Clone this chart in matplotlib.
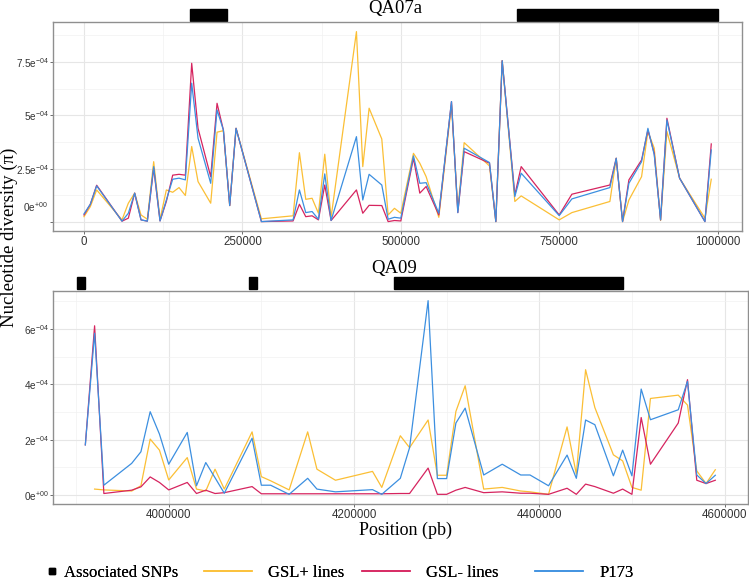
import numpy as np
import matplotlib
matplotlib.use("Agg")
import matplotlib.pyplot as plt
from matplotlib.lines import Line2D
from matplotlib.patches import Rectangle
from matplotlib.ticker import FixedLocator, FixedFormatter
import matplotlib.transforms as mtransforms

plt.rcParams["font.family"] = ["Liberation Sans", "DejaVu Sans"]
plt.rcParams["mathtext.default"] = "regular"

SERIF = ["Liberation Serif", "DejaVu Serif"]
C_PLUS = "#FBBF35"
C_MINUS = "#D6245F"
C_P173 = "#3C8FE0"

# ---- QA07a (window start positions, pi in units of 1e-4) ----
qa07_pos = [0, 10000, 20000, 60000, 70000, 80000, 90000, 100000, 110000, 120000,
            130000, 140000, 150000, 160000, 170000, 180000, 200000, 210000, 220000,
            230000, 240000, 280000, 330000, 340000, 350000, 360000, 370000, 380000,
            390000, 430000, 440000, 450000, 470000, 480000, 490000, 500000, 520000,
            530000, 540000, 560000, 580000, 590000, 600000, 640000, 650000, 660000,
            680000, 690000, 750000, 770000, 830000, 840000, 850000, 860000, 880000,
            890000, 900000, 910000, 920000, 940000, 980000, 990000]
qa07_p173 = [0.39, 0.84, 1.70, 0.05, 0.42, 1.36, 0.11, 0.05, 2.60, 0.06,
             1.04, 2.01, 2.06, 1.98, 6.50, 3.93, 1.82, 5.25, 4.31,
             0.78, 4.39, 0.03, 0.11, 1.51, 0.45, 0.50, 0.14, 2.26,
             0.08, 4.00, 1.04, 2.24, 1.74, 0.14, 0.23, 0.19, 3.10,
             1.82, 1.85, 0.42, 5.64, 0.45, 3.46, 2.79, 0.03, 7.55,
             1.20, 2.29, 0.31, 1.09, 1.62, 2.99, 0.03, 1.82, 2.83,
             4.39, 3.15, 0.11, 4.78, 2.06, 0.03, 3.38]
qa07_minus = [0.34, 0.84, 1.73, 0.05, 0.19, 1.36, 0.11, 0.05, 2.52, 0.06,
              0.97, 2.20, 2.24, 2.20, 7.43, 4.39, 2.13, 5.56, 4.31,
              0.78, 4.39, 0.03, 0.06, 0.84, 0.26, 0.30, 0.11, 1.74,
              0.08, 1.51, 0.42, 0.79, 0.78, 0.03, 0.08, 0.06, 2.99,
              1.36, 1.67, 0.34, 5.64, 0.45, 3.30, 2.76, 0.03, 7.55,
              1.28, 2.60, 0.34, 1.31, 1.74, 2.99, 0.03, 1.98, 2.91,
              4.31, 3.22, 0.11, 4.86, 2.06, 0.03, 3.66]
qa07_plus = [0.26, 0.73, 1.51, 0.11, 0.89, 1.36, 0.34, 0.14, 2.83, 0.14,
             1.51, 1.40, 1.62, 1.25, 3.54, 1.90, 0.89, 4.21, 4.28,
             0.78, 4.39, 0.16, 0.30, 3.25, 1.07, 1.12, 0.42, 3.18,
             0.23, 8.91, 2.60, 5.33, 3.89, 0.34, 0.65, 0.42, 3.22,
             2.76, 2.13, 0.23, 5.48, 0.58, 3.72, 2.63, 0.03, 7.55,
             0.97, 1.23, 0.11, 0.45, 0.97, 2.99, 0.03, 1.04, 2.13,
             4.24, 3.46, 0.08, 4.24, 2.06, 0.19, 2.01]
qa07_snps = [(167000, 225000), (684000, 1000000)]

# ---- QA09 ----
qa09_pos = [3910000, 3920000, 3930000, 3960000, 3970000, 3980000, 3990000, 4000000,
            4020000, 4030000, 4040000, 4050000, 4060000, 4090000, 4100000, 4110000,
            4130000, 4150000, 4160000, 4180000, 4220000, 4230000, 4250000, 4260000,
            4280000, 4290000, 4300000, 4310000, 4320000, 4340000, 4360000, 4380000,
            4390000, 4410000, 4430000, 4440000, 4450000, 4460000, 4480000, 4490000,
            4500000, 4510000, 4520000, 4550000, 4560000, 4570000, 4580000, 4590000]
qa09_p173 = [1.81, 5.85, 0.35, 1.14, 1.56, 3.01, 2.20, 1.11,
             2.26, 0.33, 1.17, 0.62, 0.06, 2.05, 0.35, 0.35,
             0.02, 0.60, 0.21, 0.11, 0.19, 0.02, 0.60, 1.71,
             7.03, 0.59, 0.59, 2.60, 3.14, 0.72, 1.11, 0.72,
             0.72, 0.33, 1.44, 0.60, 2.71, 2.54, 0.69, 1.62,
             0.69, 3.83, 2.72, 3.08, 4.11, 0.72, 0.41, 0.71]
qa09_minus = [1.81, 6.12, 0.05, 0.17, 0.29, 0.65, 0.45, 0.18,
              0.45, 0.05, 0.17, 0.05, 0.08, 0.30, 0.04, 0.04,
              0.04, 0.04, 0.04, 0.04, 0.04, 0.04, 0.05, 0.05,
              0.97, 0.02, 0.02, 0.17, 0.27, 0.08, 0.11, 0.06,
              0.06, 0.02, 0.24, 0.02, 0.39, 0.30, 0.06, 0.21,
              0.02, 2.80, 1.11, 2.60, 4.17, 0.53, 0.41, 0.53]
qa09_plus = [np.nan, 0.21, 0.18, 0.14, 0.33, 2.02, 1.62, 0.54,
             1.35, 0.21, 0.14, 0.93, 0.21, 2.28, 0.66, 0.51,
             0.18, 2.28, 0.93, 0.53, 0.85, 0.27, 2.14, 1.71,
             2.71, 0.71, 0.71, 3.02, 3.95, 0.21, 0.27, 0.14,
             0.11, 0.02, 2.46, 0.75, 4.53, 3.16, 1.45, 1.23,
             0.27, 0.17, 3.49, 3.61, 3.25, 0.87, 0.41, 0.91]
qa09_snps = [(3901500, 3909500), (4087000, 4095000), (4243500, 4490000)]

series_labels = ["GSL+ lines", "GSL- lines", "P173"]
series_colors = [C_PLUS, C_MINUS, C_P173]


def style_panel(ax, xmaj, xmin, ymaj, ylabels):
    ax.set_facecolor("white")
    for s in ax.spines.values():
        s.set_color("#8f8f8f")
        s.set_linewidth(1.0)
    ax.xaxis.set_major_locator(FixedLocator(xmaj))
    ax.xaxis.set_minor_locator(FixedLocator(xmin))
    ax.set_xticklabels([str(v) for v in xmaj])
    ax.yaxis.set_major_locator(FixedLocator(ymaj))
    ax.yaxis.set_minor_locator(FixedLocator([(a + b) / 2 for a, b in zip(ymaj[:-1], ymaj[1:])]
                                            + [ymaj[-1] + (ymaj[1] - ymaj[0]) / 2]))
    ax.yaxis.set_major_formatter(FixedFormatter(ylabels))
    ax.grid(which="major", color="#e6e6e6", lw=0.8)
    ax.grid(which="minor", color="#f1f1f1", lw=0.5)
    ax.set_axisbelow(True)
    ax.tick_params(which="major", length=2, width=0.6, color="#555555",
                   labelsize=8.3, labelcolor="#333333", pad=1.5)
    ax.tick_params(axis="y", which="major", labelsize=7.2, pad=1)
    ax.tick_params(which="minor", length=0)


def draw_panel(ax, pos, plus, minus, p173, snps):
    x = np.array(pos)
    for vals, col in zip([plus, minus, p173], series_colors):
        ax.plot(x, np.array(vals) * 1e-4, color=col, lw=0.9)
    trans = mtransforms.blended_transform_factory(ax.transData, ax.transAxes)
    for a, b in snps:
        ax.add_patch(Rectangle((a, 1.006), b - a, 0.056, transform=trans,
                               color="black", clip_on=False))


fig = plt.figure(figsize=(7.49, 5.80), dpi=100)
ax1 = fig.add_axes([53 / 749, 349 / 580, 689 / 749, 209 / 580])
ax2 = fig.add_axes([53 / 749, 76 / 580, 695 / 749, 213.3 / 580])

draw_panel(ax1, qa07_pos, qa07_plus, qa07_minus, qa07_p173, qa07_snps)
ax1.set_xlim(-48900, 1038500)
ax1.set_ylim(-0.41e-4, 9.36e-4)
style_panel(ax1, [0, 250000, 500000, 750000, 1000000],
            [125000, 375000, 625000, 875000],
            [0, 2.5e-4, 5e-4, 7.5e-4],
            ["", r"2.5e$^{-04}$", r"5e$^{-04}$", r"7.5e$^{-04}$"])
# the zero label sits a little above its tick in the original
ax1.annotate(r"0e$^{+00}$", xy=(0, 0), xycoords=("axes fraction", "data"),
             xytext=(-4, 11), textcoords="offset points", ha="right",
             va="center", fontsize=7.2, color="#333333")

draw_panel(ax2, qa09_pos, qa09_plus, qa09_minus, qa09_p173, qa09_snps)
ax2.set_xlim(3875100, 4625300)
ax2.set_ylim(-0.33e-4, 7.39e-4)
style_panel(ax2, [4000000, 4200000, 4400000, 4600000],
            [3900000, 4100000, 4300000, 4500000],
            [0, 2e-4, 4e-4, 6e-4],
            [r"0e$^{+00}$", r"2e$^{-04}$", r"4e$^{-04}$", r"6e$^{-04}$"])

fig.text(395 / 749, 1 - 13 / 580, "QA07a", family=SERIF, fontsize=13.5,
         ha="center", va="baseline")
fig.text(394 / 749, 1 - 273 / 580, "QA09", family=SERIF, fontsize=13.5,
         ha="center", va="baseline")
fig.text(9 / 749, 1 - 237 / 580, "Nucleotide diversity (π)", family=SERIF,
         fontsize=13.5, rotation=90, ha="center", va="center")
fig.text(405 / 749, 1 - 535 / 580, "Position (pb)", family=SERIF, fontsize=13,
         ha="center", va="baseline")

# legend keys placed one by one like the original strip
leg_y = 1 - 573 / 580
snp_handle = Line2D([], [], marker="s", ls="none", color="black", markersize=5)
l0 = fig.legend([snp_handle], ["Associated SNPs"], loc="center left",
                bbox_to_anchor=(47 / 749, leg_y), frameon=False, borderpad=0,
                borderaxespad=0, handlelength=0.6, handletextpad=0.45,
                prop={"family": SERIF, "size": 12})
fig.add_artist(l0)
starts = [204, 362, 535]
for lab, col, xs in zip(series_labels, series_colors, starts):
    h = Line2D([], [], color=col, lw=1.1)
    lg = fig.legend([h], [lab], loc="center left", bbox_to_anchor=(xs / 749, leg_y),
                    frameon=False, borderpad=0, borderaxespad=0, handlelength=2.85,
                    handletextpad=1.0, prop={"family": SERIF, "size": 12})
    fig.add_artist(lg)

fig.savefig("out.png", dpi=100)
